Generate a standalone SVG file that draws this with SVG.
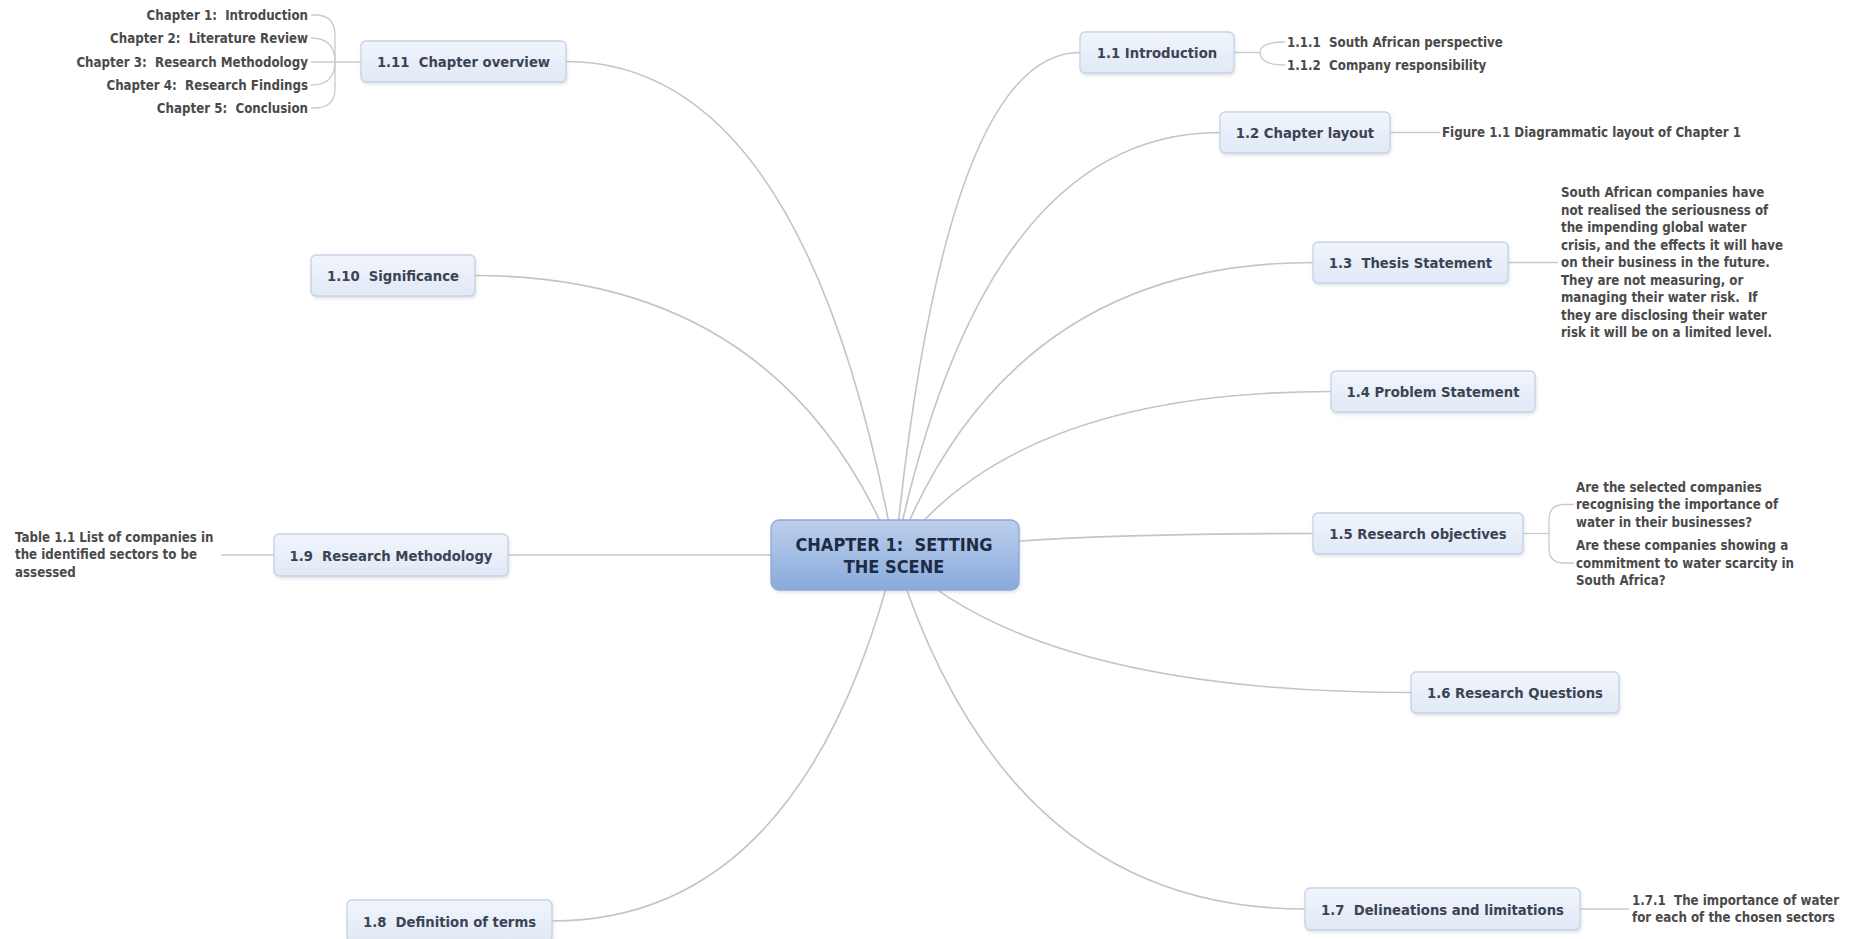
<svg xmlns="http://www.w3.org/2000/svg" width="1854" height="939" viewBox="0 0 1854 939" xml:space="preserve">
<defs>
<linearGradient id="gNode" x1="0" y1="0" x2="0" y2="1">
<stop offset="0" stop-color="#f1f5fc"/>
<stop offset="1" stop-color="#e1e9f6"/>
</linearGradient>
<linearGradient id="gCenter" x1="0" y1="0" x2="0" y2="1">
<stop offset="0" stop-color="#bccfec"/>
<stop offset="1" stop-color="#89aadc"/>
</linearGradient>
<filter id="sh" x="-10%" y="-20%" width="125%" height="160%">
<feDropShadow dx="1" dy="2" stdDeviation="1.5" flood-color="#8a96a8" flood-opacity="0.25"/>
</filter>
<style>
.t{font-family:'DejaVu Sans Condensed','DejaVu Sans',sans-serif;font-stretch:condensed;font-weight:bold;white-space:pre;}
.nt{font-size:14.7px;fill:#3a4454;text-anchor:middle;dominant-baseline:central;}
.lt{font-size:13.2px;fill:#4a4a4a;dominant-baseline:central;}
.ct{font-size:18px;fill:#1d2c44;text-anchor:middle;dominant-baseline:central;}
.box{fill:url(#gNode);stroke:#c6d2e6;stroke-width:1.3;filter:url(#sh);}
.cbox{fill:url(#gCenter);stroke:#8ea9d4;stroke-width:1.3;filter:url(#sh);}
.ln{fill:none;stroke:#c4c4c4;stroke-width:1.6;}
.sl{fill:none;stroke:#cacaca;stroke-width:1.3;}
</style>
</defs>
<rect width="1854" height="939" fill="#ffffff"/>
<g id="connectors">
<path class="ln" d="M895 555 Q 806 61.5 566 61.5"/>
<path class="ln" d="M895 555 Q 782 275.5 475 275.5"/>
<path class="ln" d="M895 555 L 508 555"/>
<path class="ln" d="M895 555 Q 803 921 552 921"/>
<path class="ln" d="M895 555 Q 1006 909 1305 909"/>
<path class="ln" d="M895 555 Q 1034 692.5 1411 692.5"/>
<path class="ln" d="M895 555 Q 1008 533.5 1313 533.5"/>
<path class="ln" d="M895 555 Q 1013 391.5 1331 391.5"/>
<path class="ln" d="M895 555 Q 1008 262.5 1313 262.5"/>
<path class="ln" d="M895 555 Q 983 132.5 1220 132.5"/>
<path class="ln" d="M895 555 Q 945 52.5 1080 52.5"/>
<path class="sl" d="M361 62 H 311"/>
<path class="sl" d="M335 62 V 35 Q 335 15 315 15 H 311"/>
<path class="sl" d="M335 62 Q 335 38 311 38"/>
<path class="sl" d="M335 62 Q 335 85 311 85"/>
<path class="sl" d="M335 62 V 88 Q 335 108 315 108 H 311"/>
<path class="sl" d="M1234 52.5 H 1260"/>
<path class="sl" d="M1260 52.5 Q 1260 42 1285 42"/>
<path class="sl" d="M1260 52.5 Q 1260 65 1285 65"/>
<path class="sl" d="M1390 132.5 H 1440"/>
<path class="sl" d="M1508 262.5 H 1558"/>
<path class="sl" d="M1523 533.5 H 1549"/>
<path class="sl" d="M1549 533.5 V 520 Q 1549 504.5 1564 504.5 H 1574"/>
<path class="sl" d="M1549 533.5 V 548 Q 1549 563 1564 563 H 1574"/>
<path class="sl" d="M1580 909 H 1629"/>
<path class="sl" d="M274 555 H 221"/>
</g>
<g id="center">
<rect class="cbox" x="771" y="520" width="248" height="70" rx="8"/>
<text class="t ct" x="894" y="544" xml:space="preserve">CHAPTER 1:  SETTING</text>
<text class="t ct" x="894" y="566">THE SCENE</text>
</g>
<g id="n1_11">
<rect class="box" x="361" y="41" width="205" height="41" rx="5"/>
<text class="t nt" x="463.5" y="61.5" xml:space="preserve">1.11  Chapter overview</text>
</g>
<g id="n1_11_children">
<text class="t lt" x="308" y="15" text-anchor="end" xml:space="preserve">Chapter 1:  Introduction</text>
<text class="t lt" x="308" y="38" text-anchor="end" xml:space="preserve">Chapter 2:  Literature Review</text>
<text class="t lt" x="308" y="62" text-anchor="end" xml:space="preserve">Chapter 3:  Research Methodology</text>
<text class="t lt" x="308" y="85" text-anchor="end" xml:space="preserve">Chapter 4:  Research Findings</text>
<text class="t lt" x="308" y="108" text-anchor="end" xml:space="preserve">Chapter 5:  Conclusion</text>
</g>
<g id="n1_10">
<rect class="box" x="311" y="255" width="164" height="41" rx="5"/>
<text class="t nt" x="393" y="275.5" xml:space="preserve">1.10  Significance</text>
</g>
<g id="n1_9">
<rect class="box" x="274" y="534" width="234" height="42" rx="5"/>
<text class="t nt" x="391" y="555" xml:space="preserve">1.9  Research Methodology</text>
</g>
<g id="n1_9_child">
<text class="t lt" x="15" y="537">Table 1.1 List of companies in</text>
<text class="t lt" x="15" y="554.5">the identified sectors to be</text>
<text class="t lt" x="15" y="572">assessed</text>
</g>
<g id="n1_8">
<rect class="box" x="347" y="900" width="205" height="42" rx="5"/>
<text class="t nt" x="449.5" y="921" xml:space="preserve">1.8  Definition of terms</text>
</g>
<g id="n1_7">
<rect class="box" x="1305" y="888" width="275" height="42" rx="5"/>
<text class="t nt" x="1442.5" y="909" xml:space="preserve">1.7  Delineations and limitations</text>
</g>
<g id="n1_7_1">
<text class="t lt" x="1632" y="900" xml:space="preserve">1.7.1  The importance of water</text>
<text class="t lt" x="1632" y="917.5">for each of the chosen sectors</text>
</g>
<g id="n1_6">
<rect class="box" x="1411" y="672" width="208" height="41" rx="5"/>
<text class="t nt" x="1515" y="692.5">1.6 Research Questions</text>
</g>
<g id="n1_5">
<rect class="box" x="1313" y="513" width="210" height="41" rx="5"/>
<text class="t nt" x="1418" y="533.5">1.5 Research objectives</text>
</g>
<g id="n1_5_children">
<text class="t lt" x="1576" y="487">Are the selected companies</text>
<text class="t lt" x="1576" y="504.5">recognising the importance of</text>
<text class="t lt" x="1576" y="522">water in their businesses?</text>
<text class="t lt" x="1576" y="545.5">Are these companies showing a</text>
<text class="t lt" x="1576" y="563">commitment to water scarcity in</text>
<text class="t lt" x="1576" y="580.5">South Africa?</text>
</g>
<g id="n1_4">
<rect class="box" x="1331" y="371" width="204" height="41" rx="5"/>
<text class="t nt" x="1433" y="391.5">1.4 Problem Statement</text>
</g>
<g id="n1_3">
<rect class="box" x="1313" y="242" width="195" height="41" rx="5"/>
<text class="t nt" x="1410.5" y="262.5" xml:space="preserve">1.3  Thesis Statement</text>
</g>
<g id="n1_3_child">
<text class="t lt" x="1561" y="192.5">South African companies have</text>
<text class="t lt" x="1561" y="210">not realised the seriousness of</text>
<text class="t lt" x="1561" y="227.5">the impending global water</text>
<text class="t lt" x="1561" y="245">crisis, and the effects it will have</text>
<text class="t lt" x="1561" y="262.5">on their business in the future.</text>
<text class="t lt" x="1561" y="280">They are not measuring, or</text>
<text class="t lt" x="1561" y="297.5" xml:space="preserve">managing their water risk.  If</text>
<text class="t lt" x="1561" y="315">they are disclosing their water</text>
<text class="t lt" x="1561" y="332.5">risk it will be on a limited level.</text>
</g>
<g id="n1_2">
<rect class="box" x="1220" y="112" width="170" height="41" rx="5"/>
<text class="t nt" x="1305" y="132.5">1.2 Chapter layout</text>
</g>
<g id="n1_2_child">
<text class="t lt" x="1442" y="132.5">Figure 1.1 Diagrammatic layout of Chapter 1</text>
</g>
<g id="n1_1">
<rect class="box" x="1080" y="32" width="154" height="41" rx="5"/>
<text class="t nt" x="1157" y="52.5">1.1 Introduction</text>
</g>
<g id="n1_1_children">
<text class="t lt" x="1287" y="42" xml:space="preserve">1.1.1  South African perspective</text>
<text class="t lt" x="1287" y="65" xml:space="preserve">1.1.2  Company responsibility</text>
</g>
</svg>
